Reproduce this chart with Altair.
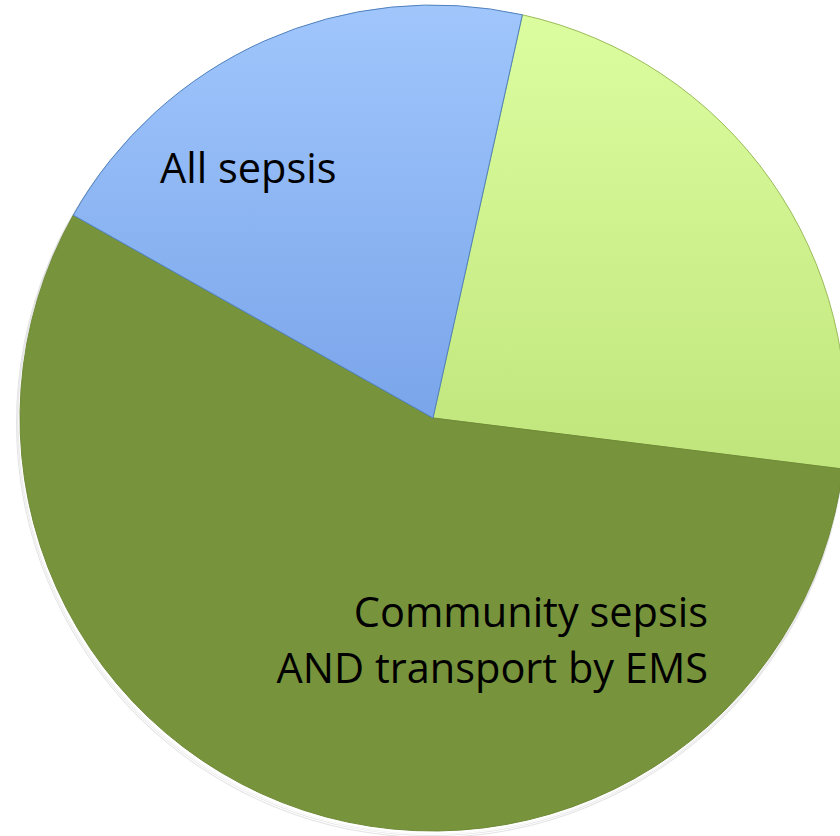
import math
import altair as alt
import pandas as pd

# Share of patients in each group (percent of the whole pie)
categories = ["Community sepsis", "Community sepsis AND transport by EMS", "All sepsis"]
values = [23.5, 56.2, 20.3]
slice_order = [1, 2, 3]

label_lines = [["All sepsis"], ["Community sepsis", "AND transport by EMS"]]

df = pd.DataFrame({"category": categories, "value": values, "order": slice_order})
total = float(sum(values))

CX, CY, R = 433, 418, 413
START = math.radians(12.5)

theta_scale = alt.Scale(domain=[0, total], range=[START, START + 2 * math.pi])

base = (
    alt.Chart(df)
    .transform_window(end="sum(value)", sort=[alt.SortField("order")], frame=[None, 0])
    .transform_calculate(start="datum.end - datum.value")
)

fills = {
    "All sepsis": alt.LinearGradient(
        gradient="linear", x1=0, y1=0, x2=0, y2=1,
        stops=[alt.GradientStop(color="#a0c6fc", offset=0),
               alt.GradientStop(color="#7aa5ea", offset=1)],
    ),
    "Community sepsis": alt.LinearGradient(
        gradient="linear", x1=0, y1=0, x2=0, y2=1,
        stops=[alt.GradientStop(color="#dcfd9f", offset=0),
               alt.GradientStop(color="#c0e57c", offset=1)],
    ),
    "Community sepsis AND transport by EMS": "#77933c",
}
strokes = {
    "All sepsis": "#4f81bd",
    "Community sepsis": "#9bbb59",
    "Community sepsis AND transport by EMS": "#6f8a37",
}

# soft drop shadow under the pie
shadow_df = pd.DataFrame({"s": [0, 1, 2, 3]})
shadow = (
    alt.Chart(shadow_df)
    .mark_arc(theta=0, theta2=2 * math.pi, color="#505060", opacity=0.16)
    .encode(
        x=alt.X("s:Q", scale=alt.Scale(domain=[0, 3], range=[CX - 1, CX - 2]), axis=None),
        y=alt.Y("s:Q", scale=alt.Scale(domain=[0, 3], range=[CY + 2, CY + 5]), axis=None),
        radius=alt.Radius("s:Q", scale=alt.Scale(domain=[0, 3], range=[R, R + 1])),
    )
)

slices = []
for cat in categories:
    slices.append(
        base.transform_filter(alt.datum.category == cat)
        .mark_arc(radius=R, fill=fills[cat], stroke=strokes[cat], strokeWidth=1)
        .encode(
            theta=alt.Theta("start:Q", scale=theta_scale),
            theta2="end:Q",
            x=alt.value(CX),
            y=alt.value(CY),
        )
    )

label_all = (
    alt.Chart(pd.DataFrame({"t": [label_lines[0]]}))
    .mark_text(font="Open Sans", fontSize=41.5, align="left", baseline="alphabetic", color="#000000")
    .encode(text="t", x=alt.value(160), y=alt.value(183))
)
label_ems = (
    alt.Chart(pd.DataFrame({"t": [label_lines[1]]}))
    .mark_text(font="Open Sans", fontSize=41.5, align="right", baseline="alphabetic",
               lineHeight=56, color="#000000")
    .encode(text="t", x=alt.value(708), y=alt.value(627))
)

chart = (
    alt.layer(shadow, *slices, label_all, label_ems)
    .properties(width=840, height=836, autosize=alt.AutoSizeParams(type="none"), padding=0,
                background="#ffffff")
    .configure_view(stroke=None)
)

chart.save("out.html", embed_options={"renderer": "svg", "actions": False})
